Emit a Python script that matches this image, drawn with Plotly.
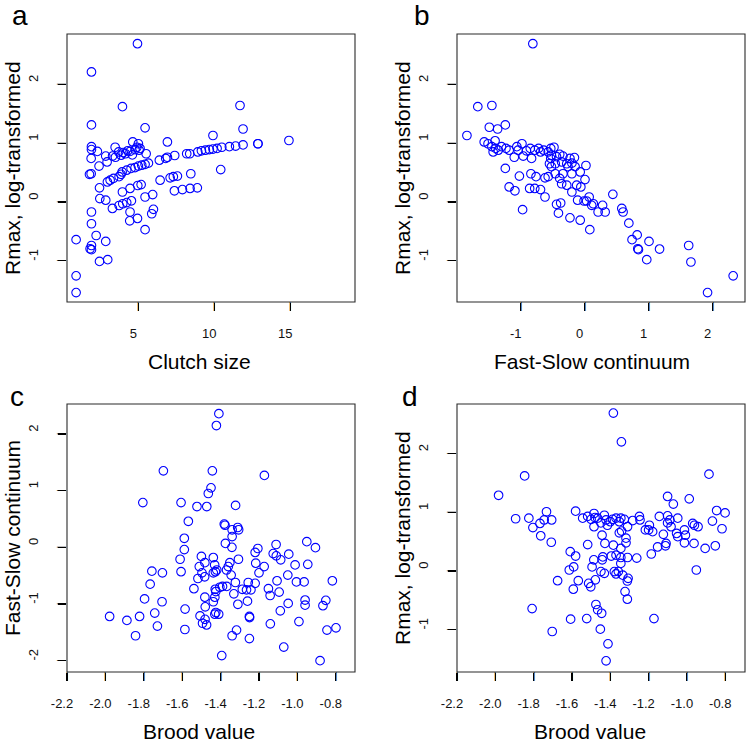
import plotly.graph_objects as go

# ---------------- data ----------------
# Panel a: clutch size vs Rmax (log-transformed)
a_clutch = [4.94, 1.91, 3.95, 11.69, 1.91, 5.44, 11.89, 9.91, 6.91, 14.91, 12.87, 12.87,
            11.89, 11.4, 10.99, 10.49, 10.18, 9.91, 9.67, 9.41, 9.15, 8.91, 8.38, 8.18, 7.39, 6.91, 6.8, 6.38,
            4.63, 5.0, 3.47, 1.91, 1.91, 2.3, 2.85, 3.49, 3.86, 4.15, 4.45, 4.78, 5.11, 5.51, 2.94, 1.89, 2.41,
            3.7, 4.0, 4.3, 4.9, 5.05, 3.3, 4.6,
            5.66, 5.44, 5.22, 5.0, 4.78, 4.52, 4.23, 3.93, 3.86, 3.73, 3.36, 3.14, 2.96, 6.43, 7.09, 7.3, 7.57,
            8.45, 10.42, 1.78, 1.89,
            2.44, 3.95, 4.45, 4.96, 5.18, 7.37, 7.9, 8.4, 8.88,
            2.46, 2.85, 3.29, 3.73, 3.97, 4.23, 4.54, 5.44, 5.94,
            1.91, 4.45, 5.88, 5.99, 4.94, 4.43, 1.91, 5.44,
            0.9, 2.22, 2.85, 1.91, 1.82, 1.91, 2.44, 2.98, 0.9, 0.9]
a_rmax = [2.69, 2.21, 1.62, 1.64, 1.31, 1.26, 1.24, 1.13, 1.02, 1.045, 0.99, 0.99,
          0.97, 0.95, 0.94, 0.93, 0.91, 0.90, 0.89, 0.88, 0.87, 0.85, 0.82, 0.82, 0.79, 0.76, 0.74, 0.71,
          1.02, 0.99, 0.93, 0.94, 0.89, 0.86, 0.78, 0.76, 0.795, 0.82, 0.86, 0.89, 0.91, 0.82, 0.68, 0.74, 0.61,
          0.85, 0.84, 0.87, 0.93, 0.88, 0.78, 0.80,
          0.66, 0.64, 0.625, 0.61, 0.585, 0.57, 0.54, 0.51, 0.47, 0.43, 0.40, 0.37, 0.34, 0.37, 0.41, 0.43, 0.44,
          0.48, 0.55, 0.47, 0.48,
          0.24, 0.17, 0.23, 0.28, 0.295, 0.19, 0.21, 0.23, 0.24,
          0.057, 0.03, -0.11, -0.06, -0.03, -0.01, 0.02, 0.085, 0.125,
          -0.17, -0.17, -0.20, -0.125, -0.28, -0.32, -0.37, -0.47,
          -0.64, -0.57, -0.67, -0.74, -0.795, -0.81, -1.01, -0.98, -1.255, -1.54]

# Panel b: fast-slow continuum vs Rmax
b_fastslow = [-0.81, -1.84, -1.67, -1.45, -1.49, -1.36, -1.24, -1.57, -1.51, -1.45, -1.40, -1.39, -1.43,
              -1.35, -1.30, -1.23, -1.18, -1.10, -1.06, -1.04, -0.98, -0.96, -0.91, -0.85, -0.83, -0.78,
              -0.72, -0.69, -0.64, -0.57, -0.53, -0.48, -0.52, -0.53, -0.55, -0.52, -0.46, -0.44, -0.39,
              -0.34, -0.36, -0.28, -0.23, -0.16, -0.20, -0.26, -0.15, -0.20, -0.07, 0.02, 0.005, -0.06,
              -0.125, -0.28, -0.36, -0.34, -0.39, -0.46, -0.11, -0.20, -0.01, 0.03, 0.07, 0.11, 0.135,
              0.21, 0.28, 0.32, 0.44, 0.58, 0.60, 0.69, 0.82, 0.74, 0.83, 0.84, 1.005, 0.97, 1.17, 1.625,
              1.66, 1.92, 2.32,
              -1.24, -1.02, -0.84, -0.76, -0.62, -1.18, -1.09, -0.86, -0.78, -0.69, -0.62, -0.97, -0.44,
              -0.375, -0.41, -0.23, -0.07, 0.08, -0.57]
b_rmax = [2.69, 1.13, 1.62, 1.64, 1.27, 1.24, 1.31, 1.02, 0.99, 0.94, 1.04, 0.91, 0.85,
          0.88, 0.94, 0.91, 0.88, 0.76, 0.94, 0.88, 0.99, 0.78, 0.87, 0.91, 0.74, 0.88,
          0.91, 0.85, 0.88, 0.85, 0.91, 0.93, 0.795, 0.74, 0.65, 0.60, 0.65, 0.77, 0.81,
          0.78, 0.68, 0.65, 0.74, 0.755, 0.66, 0.60, 0.60, 0.48, 0.51, 0.62, 0.38, 0.255,
          0.285, 0.285, 0.31, 0.48, 0.40, 0.48, 0.03, 0.17, 0.017, 0.017, 0.085, -0.057, -0.03,
          -0.17, -0.057, -0.17, 0.13, -0.11, -0.17, -0.36, -0.56, -0.64, -0.795, -0.81, -0.67, -0.98, -0.80, -0.74,
          -1.02, -1.54, -1.255,
          0.57, 0.44, 0.48, 0.43, 0.41, 0.255, 0.19, 0.23, 0.23, 0.21, 0.085, -0.13, -0.04,
          -0.017, -0.19, -0.27, -0.31, -0.47, 0.43]

# Panel c: brood value vs fast-slow continuum
c_brood = [-1.409, -1.422, -1.698, -1.443, -1.172, -1.45, -1.464, -1.805, -1.606, -1.523, -1.472, -1.322,
           -1.568, -1.381, -1.377, -1.311, -1.306, -1.34, -1.34, -1.589, -1.589, -1.375, -1.341, -1.206,
           -1.22, -1.111, -0.951, -0.906, -1.126, -1.11, -1.087, -1.045, -1.012, -0.946, -1.611, -1.606,
           -1.5, -1.438, -1.482, -1.511, -1.431, -1.42, -1.427, -1.438, -1.497, -1.483, -1.518, -1.352,
           -1.36, -1.369, -1.345, -1.307, -1.217, -1.20, -1.173, -1.22, -1.256, -1.287, -1.323, -1.368,
           -1.39, -1.404, -1.425, -1.428, -1.331, -1.43, -1.482, -1.438, -1.48, -1.425, -1.41, -1.43,
           -1.507, -1.481, -1.494, -1.473, -1.31, -1.26, -1.249, -1.25, -1.317, -1.34, -1.25, -1.394,
           -1.585, -1.586, -1.106, -1.095, -1.151, -1.142, -1.05, -1.005, -0.965, -1.048, -1.089, -0.96,
           -0.96, -0.852, -0.867, -0.818, -1.141, -0.992, -1.071, -0.846, -0.799, -0.882, -1.978, -1.888,
           -1.843, -1.822, -1.796, -1.767, -1.758, -1.703, -1.705, -1.743, -1.729, -1.539, -1.265, -1.242]
c_fastslow = [2.36, 2.15, 1.35, 1.35, 1.27, 1.05, 0.95, 0.79, 0.79, 0.72, 0.72, 0.74,
              0.46, 0.41, 0.39, 0.35, 0.31, 0.31, 0.19, 0.16, -0.04, 0.07, 0.0, -0.02,
              -0.09, 0.05, 0.10, -0.006, -0.11, -0.15, -0.22, -0.12, -0.31, -0.30, -0.21, -0.43,
              -0.16, -0.18, -0.27, -0.34, -0.31, -0.40, -0.43, -0.45, -0.45, -0.52, -0.55, -0.27,
              -0.34, -0.40, -0.49, -0.21, -0.28, -0.45, -0.34, -0.635, -0.62, -0.74, -0.62, -0.69,
              -0.69, -0.705, -0.78, -0.74, -0.82, -0.88, -0.88, -0.96, -1.05, -1.15, -1.18, -1.18,
              -1.21, -1.27, -1.34, -1.37, -1.005, -0.95, -1.24, -1.22, -1.46, -1.56, -1.61, -1.91,
              -1.09, -1.45, -0.59, -0.79, -0.73, -0.85, -0.49, -0.61, -0.61, -0.99, -1.12, -0.93,
              -1.02, -0.935, -1.03, -0.59, -1.35, -1.31, -1.76, -1.46, -1.42, -2.0, -1.22, -1.29,
              -1.56, -1.22, -0.91, -0.65, -0.42, -0.45, -0.96, -1.16, -1.39, -0.73, -0.75, -0.75]

# Panel d: brood value vs Rmax
d_brood = [-1.384, -1.342, -1.847, -1.983, -0.885, -1.101, -1.071, -0.988, -1.894, -1.825, -1.804, -1.767,
           -1.745, -1.733, -1.706, -1.763, -1.708, -1.581, -1.544, -1.518, -1.50, -1.485, -1.48, -1.485,
           -1.466, -1.449, -1.431, -1.422, -1.415, -1.40, -1.388, -1.37, -1.353, -1.345, -1.327, -1.31,
           -1.283, -1.248, -1.245, -1.217, -1.196, -1.20, -1.179, -1.144, -1.123, -1.101, -1.101, -1.089,
           -1.048, -1.083, -1.054, -1.048, -1.013, -1.008, -1.013, -0.97, -0.961, -0.942, -0.963, -0.905,
           -0.867, -0.845, -0.801, -0.852, -0.817, -0.951, -1.109, -1.112, -1.153, -1.186, -1.172, -1.318,
           -1.318, -1.341, -1.353, -1.384, -1.345, -1.345, -1.37, -1.395, -1.439, -1.442, -1.31, -1.262,
           -1.345, -1.428, -1.443, -1.518, -1.486, -1.495, -1.449, -1.431, -1.379, -1.37, -1.358, -1.335,
           -1.307, -1.311, -1.478, -1.513, -1.502, -1.323, -1.311, -1.609, -1.581, -1.591, -1.614, -1.593,
           -1.567, -1.675, -1.808, -1.703, -1.607, -1.523, -1.475, -1.466, -1.445, -1.452, -1.412, -1.422]
d_rmax = [2.69, 2.20, 1.62, 1.29, 1.65, 1.27, 1.14, 1.23, 0.89, 0.90, 0.74, 0.81,
          0.87, 1.01, 0.87, 0.60, 0.49, 1.02, 0.90, 0.93, 0.88, 0.98, 0.91, 0.755,
          0.90, 0.82, 0.95, 0.87, 0.78, 0.84, 0.88, 0.90, 0.84, 0.90, 0.88, 0.755,
          0.86, 0.93, 0.87, 0.70, 0.78, 0.70, 0.67, 0.93, 0.625, 0.94, 0.82, 0.87,
          0.90, 0.755, 0.64, 0.585, 0.70, 0.61, 0.48, 0.81, 0.78, 0.755, 0.47, 0.385,
          0.85, 1.03, 0.99, 0.43, 0.72, 0.017, 0.47, 0.43, 0.41, 0.29, -0.81, 0.56,
          0.48, 0.68, 0.65, 0.44, 0.385, 0.13, 0.27, 0.255, 0.24, 0.19, 0.23, 0.22,
          0.23, 0.47, 0.61, 0.45, 0.19, 0.07, -0.01, -0.04, -0.01, -0.05, -0.01, -0.07,
          -0.125, -0.17, -0.15, -0.21, -0.27, -0.35, -0.48, 0.33, 0.255, 0.07, 0.017, -0.31,
          -0.165, -0.165, -0.64, -1.03, -0.82, -0.81, -0.57, -0.66, -0.72, -0.99, -1.24, -1.53]

# tick labels
clutch_ticks = [5, 10, 15]
fs_ticks = [-2, -1, 0, 1, 2]
rmax_ticks = [-1, 0, 1, 2]
brood_ticks = [-2.2, -2.0, -1.8, -1.6, -1.4, -1.2, -1.0, -0.8]

# ---------------- figure ----------------
W, H = 746, 744
FONT = "Liberation Sans, Arial, Helvetica, sans-serif"
TICKLEN = 8

def px(x):
    return x / W

def py(y):
    return 1 - y / H

left_dom = [px(67), px(355)]
right_dom = [px(457), px(745)]
top_dom = [py(302), py(34)]
bot_dom = [py(672), py(404)]

rng_clutch = [0.3, 19.26]
rng_fs_x = [-1.995, 2.505]
rng_brood_c = [-2.2, -0.7]
rng_brood_d = [-2.2, -0.697]
rng_rmax_top = [-1.70, 2.855]
rng_fs_y = [-2.20, 2.53]
rng_rmax_d = [-1.72, 2.845]

fig = go.Figure()
marker = dict(symbol="circle-open", size=8.6, color="#0000ff", line=dict(width=1.1, color="#0000ff"))

panels = [
    ("x", "y", a_clutch, a_rmax, clutch_ticks, rmax_ticks),
    ("x2", "y2", b_fastslow, b_rmax, fs_ticks, rmax_ticks),
    ("x3", "y3", c_brood, c_fastslow, brood_ticks, fs_ticks),
    ("x4", "y4", d_brood, d_rmax, brood_ticks, rmax_ticks),
]

tick_font = dict(family="Liberation Sans, Arial, sans-serif", size=9, color="#000000")
for xa, ya, xs, ys, xt, yt in panels:
    fig.add_trace(go.Scatter(x=xs, y=ys, mode="markers", marker=marker,
                             xaxis=xa, yaxis=ya, showlegend=False, hoverinfo="skip"))
    xref, yref = f"{xa} domain", f"{ya} domain"
    # plot frame
    fig.add_shape(type="rect", xref=xref, yref=yref, x0=0, x1=1, y0=0, y1=1,
                  line=dict(color="#2a2a2a", width=1.1), fillcolor="rgba(0,0,0,0)", layer="above")
    # tick marks, placed on the axes' tick values
    for v in xt:
        fig.add_annotation(x=v, y=0, xref=xa, yref=yref, text="|", showarrow=False,
                           xanchor="center", yanchor="top", yshift=2.6, font=tick_font)
    for v in yt:
        fig.add_annotation(x=0, y=v, xref=xref, yref=ya, text="|", showarrow=False,
                           textangle=-90, xanchor="right", yanchor="middle", xshift=1,
                           font=tick_font)

common = dict(showline=False, mirror=False,
              ticks="outside", ticklen=TICKLEN, tickwidth=1.1, tickcolor="#000000",
              showgrid=False, zeroline=False, automargin=False,
              tickfont=dict(family=FONT, size=13, color="#111"))


def xaxis(dom, rng, ticks, fmt, anchor):
    return dict(domain=dom, range=rng, tickvals=ticks, ticktext=[fmt.format(t) for t in ticks],
                anchor=anchor, ticklabelstandoff=11, ticklabelshift=-5, **common)


def yaxis(dom, rng, ticks, fmt, anchor):
    return dict(domain=dom, range=rng, tickvals=ticks, ticktext=[fmt.format(t) for t in ticks],
                anchor=anchor, tickangle=-90, ticklabelstandoff=15, ticklabelshift=-4, **common)


fig.update_layout(
    template="none",
    width=W, height=H,
    margin=dict(l=0, r=0, t=0, b=0, pad=0),
    paper_bgcolor="white", plot_bgcolor="white",
    font=dict(family=FONT, color="#111"),
    xaxis=xaxis(left_dom, rng_clutch, clutch_ticks, "{:d}", "y"),
    yaxis=yaxis(top_dom, rng_rmax_top, rmax_ticks, "{:d}", "x"),
    xaxis2=xaxis(right_dom, rng_fs_x, fs_ticks, "{:d}", "y2"),
    yaxis2=yaxis(top_dom, rng_rmax_top, rmax_ticks, "{:d}", "x2"),
    xaxis3=xaxis(left_dom, rng_brood_c, brood_ticks, "{:.1f}", "y3"),
    yaxis3=yaxis(bot_dom, rng_fs_y, fs_ticks, "{:d}", "x3"),
    xaxis4=xaxis(right_dom, rng_brood_d, brood_ticks, "{:.1f}", "y4"),
    yaxis4=yaxis(bot_dom, rng_rmax_d, rmax_ticks, "{:d}", "x4"),
)


def note(text, x, y, size, angle=0):
    fig.add_annotation(text=text, x=px(x), y=py(y), xref="paper", yref="paper",
                       showarrow=False, xanchor="center", yanchor="middle",
                       textangle=angle, font=dict(family=FONT, size=size, color="#000"))


# panel letters
note("a", 20, 16, 28)
note("b", 422, 16, 28)
note("c", 17, 396, 28)
note("d", 410, 396, 28)
# x titles
note("Clutch size", 199, 361, 21)
note("Fast-Slow continuum", 592, 361, 21)
note("Brood value", 199, 731, 21)
note("Brood value", 590, 731, 21)
# y titles
note("Rmax, log-transformed", 12, 168, 21, -90)
note("Rmax, log-transformed", 402, 168, 21, -90)
note("Fast-Slow continuum", 12, 538, 21, -90)
note("Rmax, log-transformed", 402, 538, 21, -90)

fig.write_html("out.html", config={"displayModeBar": False, "staticPlot": True},
               post_script="document.body.style.margin='0px';")
